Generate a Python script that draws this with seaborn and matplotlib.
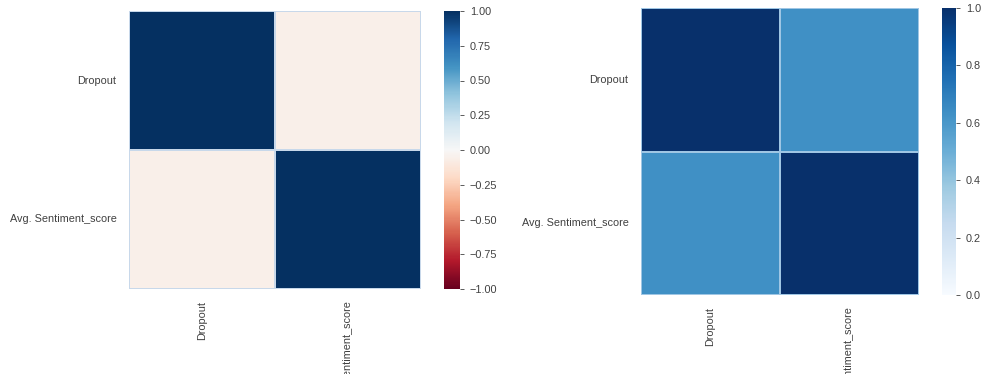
import numpy as np
import pandas as pd
import matplotlib
matplotlib.use("Agg")
import matplotlib.pyplot as plt
import seaborn as sns

labels = ["Dropout", "Avg. Sentiment_score"]
corr_left = [[1.0, -0.06],
             [-0.06, 1.0]]
corr_right = [[1.0, 0.63],
              [0.63, 1.0]]

sns.set_theme(style="white")
plt.rcParams["font.family"] = ["Liberation Sans", "DejaVu Sans"]
plt.rcParams["text.color"] = "#404040"
plt.rcParams["xtick.color"] = "#404040"
plt.rcParams["ytick.color"] = "#404040"
FS = 7.8

fig = plt.figure(figsize=(9.81, 3.74), dpi=100)
W, H = 981, 374


def box(x0, y0, x1, y1):
    return [x0 / W, 1 - y1 / H, (x1 - x0) / W, (y1 - y0) / H]


ax1 = fig.add_axes(box(129, 11, 421, 289))
cax1 = fig.add_axes(box(444, 11, 460, 289))
ax2 = fig.add_axes(box(641, 8, 919, 295))
cax2 = fig.add_axes(box(942, 8, 956, 295))

df_left = pd.DataFrame(corr_left, index=labels, columns=labels)
df_right = pd.DataFrame(corr_right, index=labels, columns=labels)

sns.heatmap(df_left, ax=ax1, cbar_ax=cax1, cmap="RdBu", vmin=-1, vmax=1,
            linewidths=0.3, linecolor="#c8d8ea")
sns.heatmap(df_right, ax=ax2, cbar_ax=cax2, cmap="Blues", vmin=0, vmax=1,
            linewidths=0.3, linecolor="#9fc6e4")

for ax in (ax1, ax2):
    ax.tick_params(axis="both", length=0, labelsize=FS, pad=9)
    ax.set_xticklabels(ax.get_xticklabels(), rotation=90)
    ax.set_yticklabels(ax.get_yticklabels(), rotation=0)
    ax.set_xlabel("")
    ax.set_ylabel("")

cax1.set_yticks(np.arange(-1, 1.01, 0.25))
cax1.set_yticklabels([f"{v:.2f}".replace("-", "\u2212") for v in np.arange(-1, 1.01, 0.25)])
cax2.set_yticks(np.arange(0, 1.01, 0.2))
cax2.set_yticklabels([f"{v:.1f}" for v in np.arange(0, 1.01, 0.2)])
for cax in (cax1, cax2):
    cax.tick_params(axis="y", length=3, width=0.6, labelsize=FS, pad=4)

fig.savefig("out.png", dpi=100)
